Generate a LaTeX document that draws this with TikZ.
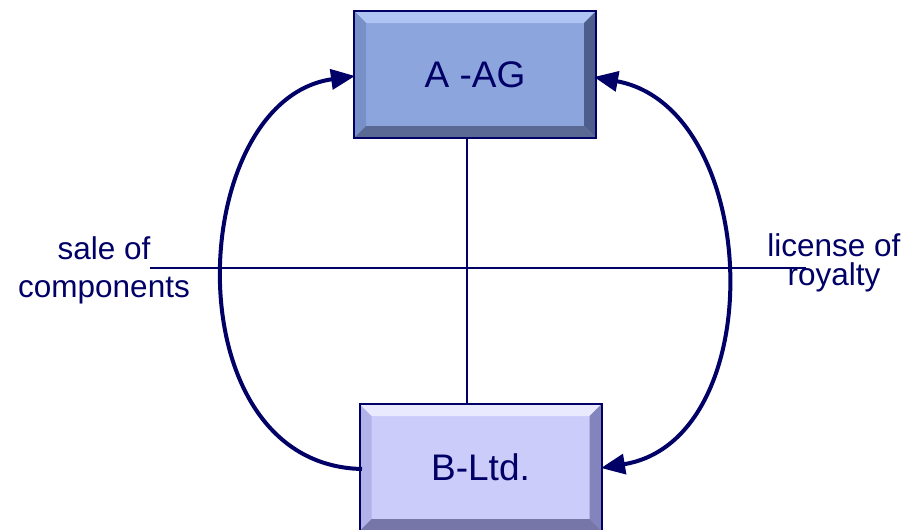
\documentclass[tikz,border=0pt]{standalone}
\usepackage{fontspec}
\setmainfont{Liberation Sans}
\usetikzlibrary{arrows.meta,calc}
\definecolor{navy}{HTML}{000066}
\definecolor{afill}{HTML}{8CA5DC}
\definecolor{atop}{HTML}{AEC4F2}
\definecolor{aleft}{HTML}{7890C8}
\definecolor{aright}{HTML}{4E5E8C}
\definecolor{abot}{HTML}{5A6894}
\definecolor{bfill}{HTML}{CCCCFA}
\definecolor{btop}{HTML}{EAEAFF}
\definecolor{bleft}{HTML}{B2B2EA}
\definecolor{bright}{HTML}{8484BC}
\definecolor{bbot}{HTML}{7676A8}
\tikzset{
  boxnode/.style={rectangle, inner sep=0pt, outer sep=0pt, minimum width=242pt, minimum height=127pt, text=navy, font=\fontsize{37}{44}\selectfont},
  lbl/.style={anchor=base, inner sep=0pt, text=navy, font=\fontsize{31.5}{38}\selectfont},
  thinline/.style={draw=navy, line width=2pt},
  arc/.style={draw=navy, line width=4pt, -{Triangle[length=24pt,width=20pt]}},
  arcboth/.style={draw=navy, line width=4pt, {Triangle[length=24pt,width=20pt]}-{Triangle[length=24pt,width=20pt]}}
}
\begin{document}
\begin{tikzpicture}[x=1pt,y=-1pt]
\useasboundingbox (0,0) rectangle (921,530);
% boxes
\node[boxnode, fill=afill] (A) at (475,74.5) {A -AG};
\node[boxnode, fill=bfill] (B) at (480.5,467.5) {B-Ltd.};
% bevels A
\fill[atop] (A.north west) -- (A.north east) -- ($(A.north east)+(-12,12)$) -- ($(A.north west)+(12,12)$) -- cycle;
\fill[aleft] (A.north west) -- ($(A.north west)+(12,12)$) -- ($(A.south west)+(12,-12)$) -- (A.south west) -- cycle;
\fill[aright] (A.north east) -- ($(A.north east)+(-12,12)$) -- ($(A.south east)+(-12,-12)$) -- (A.south east) -- cycle;
\fill[abot] (A.south west) -- ($(A.south west)+(12,-12)$) -- ($(A.south east)+(-12,-12)$) -- (A.south east) -- cycle;
\draw[navy, line width=2pt] (A.north west) rectangle (A.south east);
% bevels B
\fill[btop] (B.north west) -- (B.north east) -- ($(B.north east)+(-12,12)$) -- ($(B.north west)+(12,12)$) -- cycle;
\fill[bleft] (B.north west) -- ($(B.north west)+(12,12)$) -- ($(B.south west)+(12,-12)$) -- (B.south west) -- cycle;
\fill[bright] (B.north east) -- ($(B.north east)+(-12,12)$) -- ($(B.south east)+(-12,-12)$) -- (B.south east) -- cycle;
\fill[bbot] (B.south west) -- ($(B.south west)+(12,-12)$) -- ($(B.south east)+(-12,-12)$) -- (B.south east) -- cycle;
\draw[navy, line width=2pt] (B.north west) rectangle (B.south east);
% cross lines
\coordinate (vx) at (467,0);
\coordinate (hl) at (150,268);
\coordinate (hr) at (806,268);
\draw[thinline] (A.south -| vx) -- (B.north -| vx);
\draw[thinline] (hl) -- (hr);
% labels
\node[lbl] (l1) at (104,259) {sale of};
\node[lbl] (l2) at (104,297) {components};
\node[lbl] (r1) at (834,256) {license of};
\node[lbl] (r2) at (834,285) {royalty};
% arcs
\coordinate (Bl) at (362,469);
\coordinate (Al) at (355,76);
\coordinate (Ar) at (594,77);
\coordinate (Br) at (601,468);
\draw[arc] (Bl) .. controls (170,465) and (185,100) .. (Al);
\draw[arcboth] (Br) .. controls (772,440) and (762,108) .. (Ar);
\end{tikzpicture}
\end{document}
